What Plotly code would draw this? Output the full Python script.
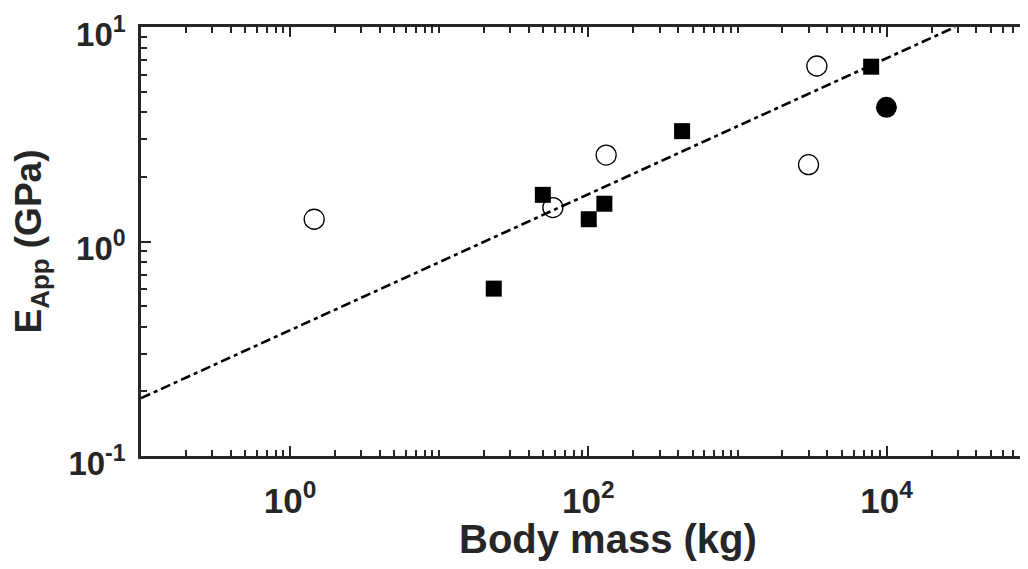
import plotly.graph_objects as go

# Data
open_mass = [1.45, 57.8, 131.6, 3405, 2994]
open_e = [1.27, 1.44, 2.53, 6.58, 2.28]

square_mass = [23.2, 49.5, 100.6, 128, 425, 7875]
square_e = [0.603, 1.65, 1.27, 1.50, 3.27, 6.53]

filled_mass = [9970]
filled_e = [4.22]

fit_mass = [0.1, 28800]
fit_e = [0.186, 10.0]

x_tickvals = [1, 100, 10000]
x_ticktext = ["10<sup>0</sup>", "10<sup>2</sup>", "10<sup>4</sup>"]
x_minor = [k * 10 ** d for d in range(-1, 5) for k in range(2, 10)] + [10, 1000]

y_tickvals = [0.1, 1, 10]
y_ticktext = ["10<sup>-1</sup>", "10<sup>0</sup>", "10<sup>1</sup>"]
y_minor = [k * 10 ** d for d in range(-1, 1) for k in range(2, 10)]

AX = "#262626"
FONT = "Liberation Sans, Arial, sans-serif"

fig = go.Figure()
fig.add_trace(go.Scatter(x=fit_mass, y=fit_e, mode="lines",
                         line=dict(color="black", width=2.6, dash="10px,4px,4px,4px")))
fig.add_trace(go.Scatter(x=open_mass, y=open_e, mode="markers",
                         marker=dict(symbol="circle-open", size=20, color="black",
                                     line=dict(width=1.3, color="black"))))
fig.add_trace(go.Scatter(x=square_mass, y=square_e, mode="markers",
                         marker=dict(symbol="square", size=16, color="black",
                                     line=dict(width=0))))
fig.add_trace(go.Scatter(x=filled_mass, y=filled_e, mode="markers",
                         marker=dict(symbol="circle", size=21, color="black",
                                     line=dict(width=0))))

fig.update_layout(
    width=1020, height=561,
    margin=dict(l=133, r=0, t=19, b=113, autoexpand=False),
    paper_bgcolor="white", plot_bgcolor="white",
    showlegend=False,
    font=dict(family=FONT, color=AX, size=32, weight="bold"),
)
fig.update_xaxes(
    type="log", range=[-1, 4.948], automargin=False,
    showline=True, linecolor=AX, linewidth=2.5, mirror="ticks",
    showgrid=False, zeroline=False,
    tickmode="array", tickvals=x_tickvals, ticktext=x_ticktext,
    ticks="inside", ticklen=10, tickwidth=2, tickcolor=AX,
    minor=dict(tickmode="array", tickvals=x_minor, ticks="inside", ticklen=6,
               tickwidth=2, tickcolor=AX, showgrid=False),
    tickfont=dict(size=35, family=FONT, color=AX, weight="bold"),
    ticklabelstandoff=12, ticklabeloverflow="allow",
)
fig.update_yaxes(
    type="log", range=[-1, 1], automargin=False,
    showline=True, linecolor=AX, linewidth=2.5, mirror=False,
    showgrid=False, zeroline=False,
    tickmode="array", tickvals=y_tickvals, ticktext=y_ticktext,
    ticks="inside", ticklen=10, tickwidth=2, tickcolor=AX,
    minor=dict(tickmode="array", tickvals=y_minor, ticks="inside", ticklen=6,
               tickwidth=2, tickcolor=AX, showgrid=False),
    tickfont=dict(size=33, family=FONT, color=AX, weight="bold"),
    ticklabelstandoff=6, ticklabelshift=7, ticklabeloverflow="allow",
    title=dict(text="E<sub>App</sub> (GPa)", font=dict(size=37, family=FONT, color=AX, weight="bold"),
               standoff=18),
)
fig.add_annotation(
    text="Body mass (kg)", xref="paper", yref="paper", x=0.5265, y=-0.1935,
    xanchor="center", yanchor="middle", showarrow=False,
    font=dict(size=40, family=FONT, color=AX, weight="bold"),
)
fig.write_html("out.html")
